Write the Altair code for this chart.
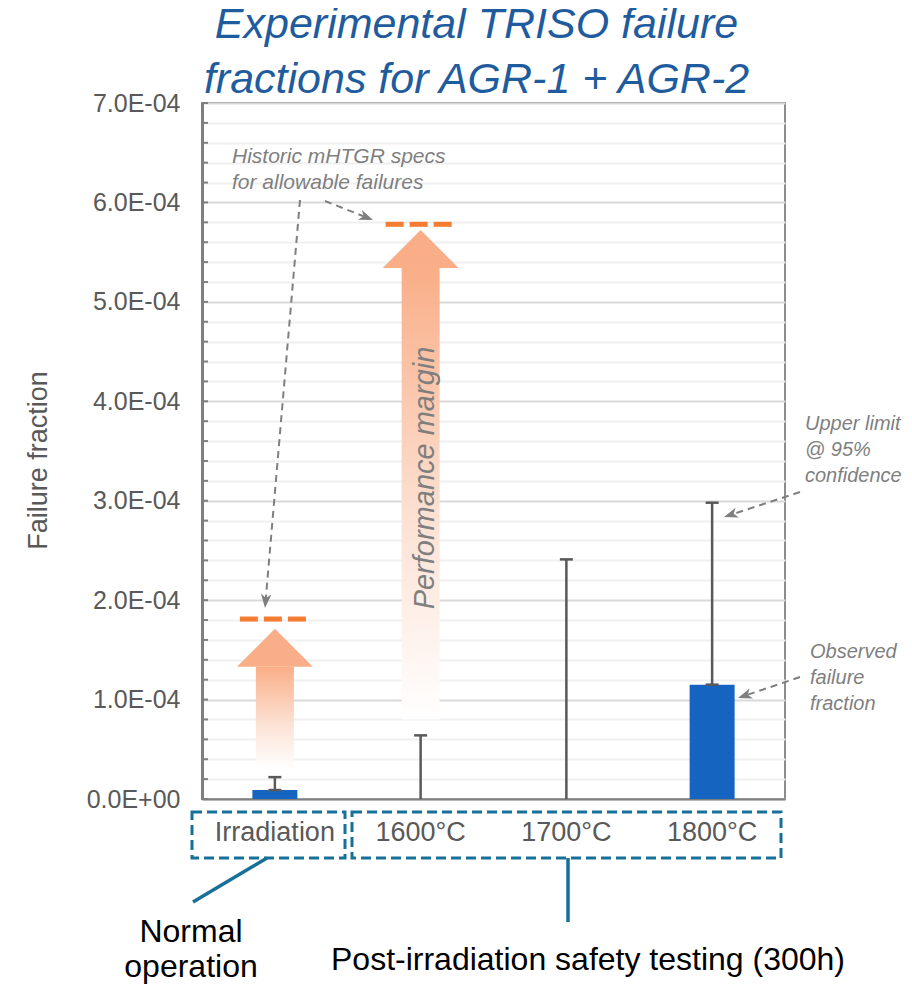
import json
import math
import altair as alt
import pandas as pd

FONT = "Liberation Sans"

# ---------------- data ----------------
categories = ["Irradiation", "1600°C", "1700°C", "1800°C"]
observed = [0.9e-5, 0.0, 0.0, 1.15e-4]
upper95 = [2.2e-5, 6.4e-5, 2.41e-4, 2.98e-4]

spec_categories = ["Irradiation", "1600°C"]
spec_limits = [1.81e-4, 5.78e-4]
margin_start = [0.3e-4, 0.8e-4]
margin_head = [1.33e-4, 5.34e-4]

y_major_labels = ["0.0E+00", "1.0E-04", "2.0E-04", "3.0E-04",
                  "4.0E-04", "5.0E-04", "6.0E-04", "7.0E-04"]
y_minor_step = 2e-5
y_ticks = [round(i * y_minor_step, 10) for i in range(36)]

title_lines = ["Experimental TRISO failure", "fractions for AGR-1 + AGR-2"]

# ---------------- styles ----------------
BLUE = "#1565C0"
GREY = "#595959"
ANN = "#7F7F7F"
ORANGE = "#F47B30"
ARROW = "#F9AE87"
TEAL = "#16709A"

df = pd.DataFrame({"cat": categories, "obs": observed, "upper": upper95})
spec_df = pd.DataFrame({"cat": spec_categories, "spec": spec_limits,
                        "start": margin_start, "head": margin_head})
tick_df = pd.DataFrame({"v": y_ticks})
one = pd.DataFrame({"k": [0]})

x_scale = alt.Scale(domain=categories, paddingInner=0, paddingOuter=0)
y_scale = alt.Scale(domain=[0, 7e-4], nice=False, zero=True)

label_expr = ("round(datum.value*1e5) % 10 === 0 ? "
              + json.dumps(y_major_labels) + "[round(datum.value*1e4)] : ''")

x_axis = alt.Axis(title=None, labelFontSize=27, labelColor=GREY, labelFont=FONT,
                  ticks=False, labelPadding=20, domainColor="#7F7F7F",
                  domainWidth=2, labelAngle=0, grid=False)
y_axis = alt.Axis(title="Failure fraction", values=y_ticks, labelExpr=label_expr,
                  labelFontSize=25, labelColor=GREY, labelFont=FONT,
                  labelPadding=22, ticks=False, labelOverlap=False,
                  labelFlush=False, domainColor="#7F7F7F", domainWidth=3,
                  grid=True,
                  gridColor={"condition": {"test": "round(datum.value*1e5) % 10 === 0",
                                           "value": "#D9D9D9"},
                             "value": "#F0F0F0"},
                  gridWidth=2,
                  titleFontSize=27, titleColor=GREY, titleFont=FONT,
                  titleFontWeight="normal", titleX=-164, titleY=357,
                  titleAngle=270, titleAlign="center", titleBaseline="middle")


def X():
    return alt.X("cat:N", scale=x_scale, axis=x_axis)


def Y(field):
    return alt.Y(field + ":Q", scale=y_scale, axis=y_axis)


layers = []

# main bars
layers.append(
    alt.Chart(df).mark_bar(width=45, color=BLUE).encode(x=X(), y=Y("obs"))
)

# inward ticks on the y axis
layers.append(
    alt.Chart(tick_df).mark_rule(color="#7F7F7F", strokeWidth=2).encode(
        x=alt.value(0), x2=alt.value(6), y=Y("v")
    )
)

# performance-margin arrows: gradient shaft + head
gradient = alt.Gradient(
    gradient="linear",
    stops=[alt.GradientStop(color=ARROW, offset=0),
           alt.GradientStop(color="#FCE1D3", offset=0.55),
           alt.GradientStop(color="#FFFFFF", offset=1)],
    x1=0, x2=0, y1=0, y2=1,
)
layers.append(
    alt.Chart(spec_df).mark_bar(width=38, fill=gradient).encode(
        x=X(), y=Y("start"), y2="head:Q"
    )
)
layers.append(
    alt.Chart(spec_df).mark_point(shape="M-1,0L0,-1L1,0Z", filled=True, size=5776,
                                  color=ARROW, opacity=1, strokeWidth=0).encode(
        x=X(), y=Y("head")
    )
)

# historic spec dashes
for off in (-26, -2, 22):
    layers.append(
        alt.Chart(spec_df).mark_tick(size=18, thickness=5, color=ORANGE, opacity=1,
                                     xOffset=off).encode(x=X(), y=Y("spec"))
    )

# error bars
layers.append(
    alt.Chart(df).mark_rule(color=GREY, strokeWidth=2.5).encode(
        x=X(), y=Y("obs"), y2="upper:Q"
    )
)
layers.append(
    alt.Chart(df).mark_tick(size=13, thickness=2.5, color=GREY, opacity=1).encode(
        x=X(), y=Y("upper")
    )
)
layers.append(
    alt.Chart(df).transform_filter("datum.obs > 0").mark_tick(
        size=13, thickness=2.5, color=GREY, opacity=1).encode(x=X(), y=Y("obs"))
)

# "Performance margin" label
layers.append(
    alt.Chart(one).mark_text(text="Performance margin", angle=270, align="center",
                             baseline="middle", fontSize=29, fontStyle="italic",
                             font=FONT, color=ANN).encode(
        x=alt.value(223), y=alt.value(375)
    )
)

# annotation texts
ann_texts = [
    (["Historic mHTGR specs", "for allowable failures"], 30, 60, 21),
    (["Upper limit", "@ 95%", "confidence"], 603, 327, 20),
    (["Observed", "failure", "fraction"], 608, 555, 20),
]
for lines, px, py, fs in ann_texts:
    layers.append(
        alt.Chart(one).mark_text(text=lines, align="left", baseline="alphabetic",
                                 fontSize=fs, fontStyle="italic", font=FONT,
                                 color=ANN, lineHeight=26).encode(
            x=alt.value(px), y=alt.value(py)
        )
    )

# dashed pointer arrows
arrows = [((98, 97), (63, 505)), ((123, 98), (171, 117)),
          ((598, 389), (522, 414)), ((598, 574), (536, 595))]
for (sx, sy), (tx, ty) in arrows:
    dx, dy = tx - sx, ty - sy
    L = math.hypot(dx, dy)
    ux, uy = dx / L, dy / L
    ex, ey = tx - 10 * ux, ty - 10 * uy
    hx, hy = tx - 7 * ux, ty - 7 * uy
    ang = math.degrees(math.atan2(-dx, dy)) % 360
    layers.append(
        alt.Chart(one).mark_rule(color=ANN, strokeWidth=2, strokeDash=[7, 5]).encode(
            x=alt.value(sx), y=alt.value(sy), x2=alt.value(ex), y2=alt.value(ey)
        )
    )
    layers.append(
        alt.Chart(one).mark_point(shape="M0,1L-0.75,-1L0,-0.45L0.75,-1Z", filled=True,
                                  size=196, color=ANN, opacity=1, strokeWidth=0,
                                  angle=ang).encode(
            x=alt.value(hx), y=alt.value(hy)
        )
    )

# dashed group boxes below the axis
for x0, x1 in ((-10, 143), (150, 579)):
    layers.append(
        alt.Chart(one).mark_rect(fillOpacity=0, stroke=TEAL, strokeWidth=3,
                                 strokeDash=[10, 5]).encode(
            x=alt.value(x0), x2=alt.value(x1), y=alt.value(709), y2=alt.value(755)
        )
    )
for (sx, sy), (ex, ey) in (((65, 755), (-9, 799)), ((366, 755), (366, 819))):
    layers.append(
        alt.Chart(one).mark_rule(color=TEAL, strokeWidth=3.5).encode(
            x=alt.value(sx), y=alt.value(sy), x2=alt.value(ex), y2=alt.value(ey)
        )
    )
layers.append(
    alt.Chart(one).mark_text(text=["Normal", "operation"], align="center",
                             baseline="alphabetic", fontSize=32, lineHeight=35,
                             font=FONT, color="black").encode(
        x=alt.value(-11), y=alt.value(839)
    )
)
layers.append(
    alt.Chart(one).mark_text(text="Post-irradiation safety testing (300h)",
                             align="center", baseline="alphabetic", fontSize=32,
                             font=FONT, color="black").encode(
        x=alt.value(386), y=alt.value(867)
    )
)

chart = alt.layer(*layers).properties(
    width=583,
    height=696,
    autosize=alt.AutoSizeParams(type="none"),
    padding={"left": 194, "top": 95, "right": 119, "bottom": 186},
    title=alt.TitleParams(text=title_lines, fontSize=43, lineHeight=55,
                          font=FONT, fontStyle="italic", fontWeight="normal",
                          color="#1F5C9E", anchor="middle", frame="group",
                          dx=-17, dy=11, offset=0),
).configure_view(stroke="#8C8C8C", strokeWidth=2)

chart.save("out.html", embed_options={"renderer": "svg", "actions": False})
